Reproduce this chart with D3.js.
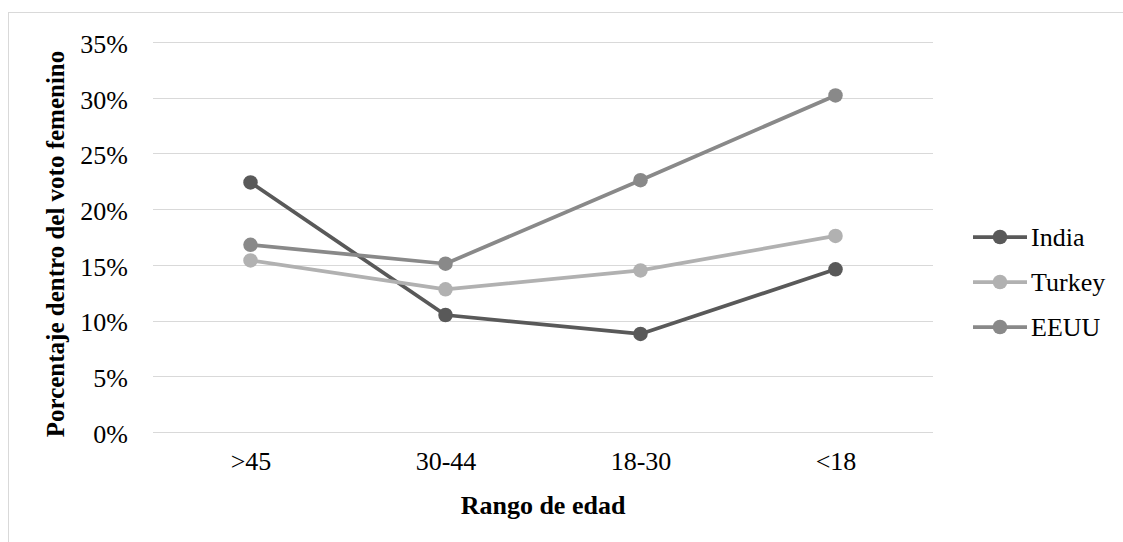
<!DOCTYPE html>
<html>
<head>
<meta charset="utf-8">
<script src="https://cdn.jsdelivr.net/npm/d3@7"></script>
<style>
  body { margin: 0; background: #fff; }
  svg { display: block; font-family: "Liberation Serif", "Times New Roman", serif; }
</style>
</head>
<body>
<svg id="chart"></svg>
<script>
// Data
const categories = ['>45', '30-44', '18-30', '<18'];
const seriesNames = ['India', 'Turkey', 'EEUU'];
const india = [22.4, 10.5, 8.8, 14.6];
const turkey = [15.4, 12.8, 14.5, 17.6];
const eeuu = [16.8, 15.1, 22.6, 30.2];
const yTicks = [0, 5, 10, 15, 20, 25, 30, 35];

const width = 1123;
const height = 542;
const colors = { India: '#595959', Turkey: '#b1b1b1', EEUU: '#898989' };
const series = [
  { name: 'India', values: india },
  { name: 'Turkey', values: turkey },
  { name: 'EEUU', values: eeuu }
];

const svg = d3.select('#chart')
  .attr('width', width)
  .attr('height', height);

// chart border (right and bottom edges fall outside the picture)
svg.append('rect')
  .attr('x', 8.5).attr('y', 12.5)
  .attr('width', 1200).attr('height', 600)
  .attr('fill', 'none')
  .attr('stroke', '#d9d9d9')
  .attr('stroke-width', 1);

// Scales
const x = d3.scalePoint()
  .domain(categories)
  .range([153, 933])
  .padding(0.5);

const y = d3.scaleLinear()
  .domain([0, 35])
  .range([432, 42]);

// Gridlines
svg.append('g')
  .selectAll('line')
  .data(yTicks)
  .enter()
  .append('line')
  .attr('x1', 153)
  .attr('x2', 933)
  .attr('y1', d => Math.round(y(d)) + 0.5)
  .attr('y2', d => Math.round(y(d)) + 0.5)
  .attr('stroke', '#d9d9d9')
  .attr('stroke-width', 1);

// Y axis labels
const yAxis = svg.append('g')
  .attr('transform', 'translate(153,0)')
  .call(d3.axisLeft(y).tickValues(yTicks).tickFormat(d => d + '%').tickSize(0).tickPadding(25));
yAxis.select('.domain').remove();
yAxis.selectAll('text')
  .attr('font-family', '"Liberation Serif", serif')
  .attr('font-size', '26px')
  .attr('dy', '0.4em')
  .attr('fill', '#000');

// X axis labels
const xAxis = svg.append('g')
  .attr('transform', 'translate(0,432)')
  .call(d3.axisBottom(x).tickSize(0).tickPadding(20));
xAxis.select('.domain').remove();
xAxis.selectAll('text')
  .attr('font-family', '"Liberation Serif", serif')
  .attr('font-size', '26px')
  .attr('fill', '#000');

// Lines
const line = d3.line()
  .x((d, i) => x(categories[i]))
  .y(d => y(d));

const g = svg.selectAll('.series')
  .data(series)
  .enter()
  .append('g')
  .attr('class', 'series');

g.append('path')
  .attr('d', d => line(d.values))
  .attr('fill', 'none')
  .attr('stroke', d => colors[d.name])
  .attr('stroke-width', 3.75)
  .attr('stroke-linejoin', 'round');

g.selectAll('circle')
  .data(d => d.values.map((v, i) => ({ v, i, name: d.name })))
  .enter()
  .append('circle')
  .attr('cx', d => x(categories[d.i]))
  .attr('cy', d => y(d.v))
  .attr('r', 7.25)
  .attr('fill', d => colors[d.name]);

// Axis titles
svg.append('text')
  .attr('x', 543)
  .attr('y', 514)
  .attr('text-anchor', 'middle')
  .attr('font-size', '26px')
  .attr('font-weight', 'bold')
  .text('Rango de edad');

svg.append('text')
  .attr('transform', 'translate(64,244) rotate(-90)')
  .attr('text-anchor', 'middle')
  .attr('font-size', '25px')
  .attr('font-weight', 'bold')
  .text('Porcentaje dentro del voto femenino');

// Legend
const legend = svg.selectAll('.legend')
  .data(seriesNames)
  .enter()
  .append('g')
  .attr('class', 'legend')
  .attr('transform', (d, i) => `translate(973, ${237 + i * 45})`);

legend.append('line')
  .attr('x1', 0).attr('x2', 54)
  .attr('y1', 0).attr('y2', 0)
  .attr('stroke', d => colors[d])
  .attr('stroke-width', 3.75);

legend.append('circle')
  .attr('cx', 27)
  .attr('cy', 0)
  .attr('r', 7.25)
  .attr('fill', d => colors[d]);

legend.append('text')
  .attr('x', 58)
  .attr('y', 9)
  .attr('font-size', '26px')
  .text(d => d);
</script>
</body>
</html>
